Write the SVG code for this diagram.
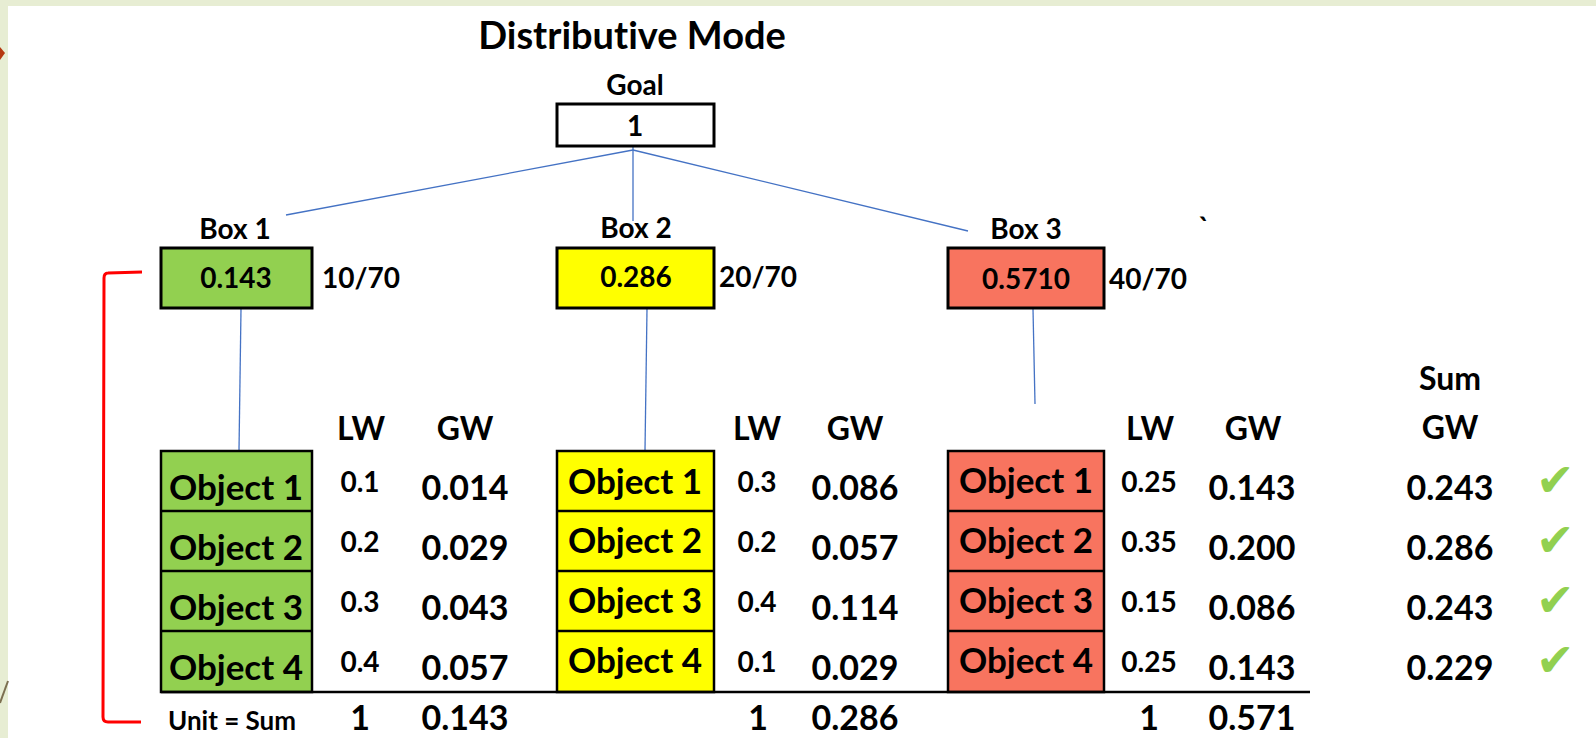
<svg xmlns="http://www.w3.org/2000/svg" width="1596" height="738" viewBox="0 0 1596 738">
<style>
.t{font-family:Lato,"Open Sans","Liberation Sans",sans-serif;font-weight:bold;fill:#000;text-anchor:middle;font-variant-ligatures:none}
.s{text-anchor:start}
.ttl{font-size:38px}
.lb{font-size:28px}
.obj{font-size:35px}
.lw{font-size:28px}
.gw{font-size:34px}
.hd{font-size:32px}
.unit{font-size:26px}
.box{stroke:#000;stroke-width:3}
.ob{stroke:#000;stroke-width:2.5}
.conn{stroke:#4472C4;stroke-width:1.3;fill:none}
.chk{font-family:"DejaVu Sans",sans-serif;font-size:46px;fill:#92D050}
</style>
<rect x="0" y="0" width="1596" height="738" fill="#FFFFFF"/>
<rect x="0" y="0" width="1596" height="6" fill="#E7EDD3"/>
<rect x="0" y="0" width="8" height="738" fill="#E7EDD3"/>
<path d="M0,47 L5,53 L0,60 Z" fill="#B5370F"/>
<line x1="0" y1="703" x2="8" y2="681" stroke="#7C6F50" stroke-width="2"/>

<g id="connectors">
<line class="conn" x1="633" y1="146" x2="633" y2="221"/>
<line class="conn" x1="633" y1="150" x2="286" y2="215"/>
<line class="conn" x1="633" y1="150" x2="968" y2="231"/>
<line class="conn" x1="241" y1="309" x2="239" y2="450"/>
<line class="conn" x1="647" y1="309" x2="645" y2="450"/>
<line class="conn" x1="1033" y1="309" x2="1035" y2="404"/>
<path d="M142,272 L108,273 Q104,273 104,278 L103,717 Q103,722 108,722 L141,722" fill="none" stroke="#FF0000" stroke-width="3"/>
</g>

<g id="title"><text class="t ttl" x="632" y="49">Distributive Mode</text></g>

<g id="goal">
<text class="t lb" x="635" y="95">Goal</text>
<rect class="box" x="557" y="104" width="157" height="42" fill="#FFFFFF" stroke-width="2.5"/>
<text class="t lb" x="635" y="136">1</text>
</g>

<g id="box1">
<text class="t lb" x="235" y="239">Box 1</text>
<rect class="box" x="161" y="248" width="151" height="60" fill="#92D050"/>
<text class="t lb" x="236" y="288">0.143</text>
<text class="t lb s" x="322" y="288">10/70</text>
</g>

<g id="box2">
<text class="t lb" x="636" y="238">Box 2</text>
<rect class="box" x="557" y="248" width="157" height="60" fill="#FFFF00"/>
<text class="t lb" x="636" y="287">0.286</text>
<text class="t lb s" x="719" y="287">20/70</text>
</g>

<g id="box3">
<text class="t lb" x="1026" y="239">Box 3</text>
<rect class="box" x="948" y="248" width="156" height="60" fill="#F8745F"/>
<text class="t lb" x="1026" y="289">0.5710</text>
<text class="t lb s" x="1109" y="289">40/70</text>
<text class="t lb" x="1204" y="238">`</text>
</g>

<g id="objects1">
<rect class="ob" x="161" y="451" width="151" height="241" fill="#92D050"/>
<line class="ob" x1="161" y1="511" x2="312" y2="511"/>
<line class="ob" x1="161" y1="571" x2="312" y2="571"/>
<line class="ob" x1="161" y1="631" x2="312" y2="631"/>
<text class="t obj" x="236" y="500">Object 1</text>
<text class="t obj" x="236" y="560">Object 2</text>
<text class="t obj" x="236" y="620">Object 3</text>
<text class="t obj" x="236" y="680">Object 4</text>
</g>

<g id="objects2">
<rect class="ob" x="557" y="451" width="157" height="241" fill="#FFFF00"/>
<line class="ob" x1="557" y1="511" x2="714" y2="511"/>
<line class="ob" x1="557" y1="571" x2="714" y2="571"/>
<line class="ob" x1="557" y1="631" x2="714" y2="631"/>
<text class="t obj" x="635" y="494">Object 1</text>
<text class="t obj" x="635" y="553">Object 2</text>
<text class="t obj" x="635" y="613">Object 3</text>
<text class="t obj" x="635" y="673">Object 4</text>
</g>

<g id="objects3">
<rect class="ob" x="948" y="451" width="156" height="241" fill="#F8745F"/>
<line class="ob" x1="948" y1="511" x2="1104" y2="511"/>
<line class="ob" x1="948" y1="571" x2="1104" y2="571"/>
<line class="ob" x1="948" y1="631" x2="1104" y2="631"/>
<text class="t obj" x="1026" y="493">Object 1</text>
<text class="t obj" x="1026" y="553">Object 2</text>
<text class="t obj" x="1026" y="613">Object 3</text>
<text class="t obj" x="1026" y="673">Object 4</text>
</g>

<g id="table">
<line x1="161" y1="692" x2="1310" y2="692" stroke="#000" stroke-width="2.5"/>
<text class="t hd" x="361" y="440">LW</text>
<text class="t hd" x="465" y="440">GW</text>
<text class="t hd" x="757" y="440">LW</text>
<text class="t hd" x="855" y="440">GW</text>
<text class="t hd" x="1150" y="440">LW</text>
<text class="t hd" x="1253" y="440">GW</text>
<text class="t hd" x="1450" y="390">Sum</text>
<text class="t hd" x="1450" y="439">GW</text>

<text class="t lw" x="360" y="492">0.1</text>
<text class="t lw" x="360" y="552">0.2</text>
<text class="t lw" x="360" y="612">0.3</text>
<text class="t lw" x="360" y="672">0.4</text>
<text class="t gw" x="465" y="500">0.014</text>
<text class="t gw" x="465" y="560">0.029</text>
<text class="t gw" x="465" y="620">0.043</text>
<text class="t gw" x="465" y="680">0.057</text>

<text class="t lw" x="757" y="492">0.3</text>
<text class="t lw" x="757" y="552">0.2</text>
<text class="t lw" x="757" y="612">0.4</text>
<text class="t lw" x="757" y="672">0.1</text>
<text class="t gw" x="855" y="500">0.086</text>
<text class="t gw" x="855" y="560">0.057</text>
<text class="t gw" x="855" y="620">0.114</text>
<text class="t gw" x="855" y="680">0.029</text>

<text class="t lw" x="1149" y="492">0.25</text>
<text class="t lw" x="1149" y="552">0.35</text>
<text class="t lw" x="1149" y="612">0.15</text>
<text class="t lw" x="1149" y="672">0.25</text>
<text class="t gw" x="1252" y="500">0.143</text>
<text class="t gw" x="1252" y="560">0.200</text>
<text class="t gw" x="1252" y="620">0.086</text>
<text class="t gw" x="1252" y="680">0.143</text>

<text class="t gw" x="1450" y="500">0.243</text>
<text class="t gw" x="1450" y="560">0.286</text>
<text class="t gw" x="1450" y="620">0.243</text>
<text class="t gw" x="1450" y="680">0.229</text>

<text class="t unit" x="232" y="730">Unit = Sum</text>
<text class="t gw" x="360" y="730">1</text>
<text class="t gw" x="465" y="730">0.143</text>
<text class="t gw" x="758" y="730">1</text>
<text class="t gw" x="855" y="730">0.286</text>
<text class="t gw" x="1149" y="730">1</text>
<text class="t gw" x="1252" y="730">0.571</text>
</g>

<g id="checks">
<text class="chk" x="1536" y="496">✔</text>
<text class="chk" x="1536" y="556">✔</text>
<text class="chk" x="1536" y="616">✔</text>
<text class="chk" x="1536" y="676">✔</text>
</g>
</svg>
